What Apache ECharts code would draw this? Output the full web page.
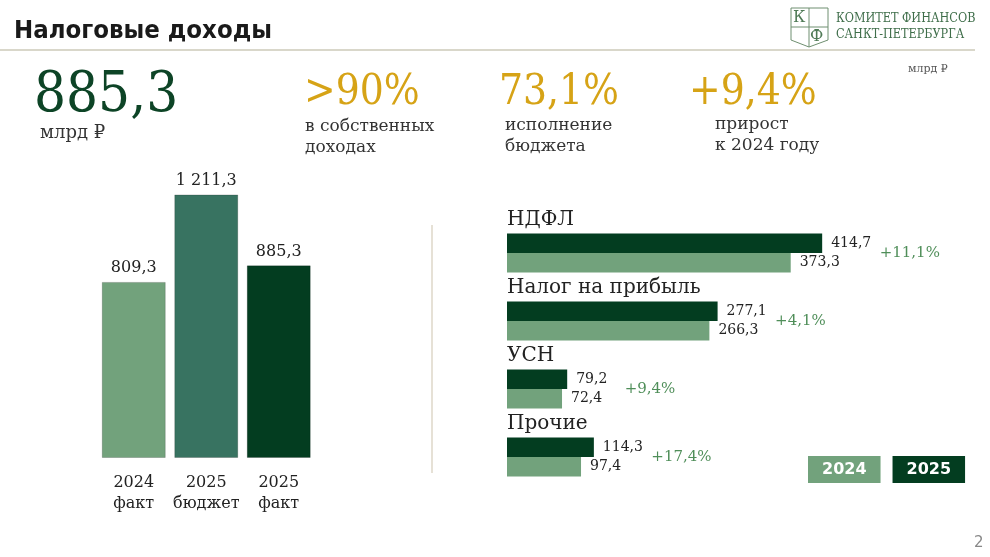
<!DOCTYPE html>
<html>
<head>
    <meta charset="utf-8">
    <script src="https://cdn.jsdelivr.net/npm/echarts@6/dist/echarts.min.js"></script>
    <style>
        html, body { margin: 0; padding: 0; background: #fff; }
        #main { width: 990px; height: 557px; }
    </style>
</head>
<body>
    <div id="main"></div>
    <script>
        // totals, bln rub
        var totalCats = ['2024\nфакт', '2025\nбюджет', '2025\nфакт'];
        var totalValues = [809.3, 1211.3, 885.3];
        var totalColors = ['#72a27c', '#387361', '#033d20'];

        // tax structure
        var taxCats = ['НДФЛ', 'Налог на прибыль', 'УСН', 'Прочие'];
        var tax2025 = [414.7, 277.1, 79.2, 114.3];
        var tax2024 = [373.3, 266.3, 72.4, 97.4];
        var taxGrowth = ['+11,1%', '+4,1%', '+9,4%', '+17,4%'];

        var SERIF = '"DejaVu Serif", "Noto Serif", serif';
        var SERIF_C = '"DejaVu Serif Condensed", "DejaVu Serif", serif';
        var SANS = '"DejaVu Sans", "Noto Sans", sans-serif';
        var LIGHT = '#72a27c';
        var DARK = '#033d20';
        var GOLD = '#d6a316';

        function fmt(v) {
            var s = v.toFixed(1).replace('.', ',');
            var parts = s.split(',');
            parts[0] = parts[0].replace(/\B(?=(\d{3})+(?!\d))/g, ' ');
            return parts.join(',');
        }

        function txt(x, y, text, size, color, extra) {
            var style = {
                text: text, x: 0, y: 0, fontSize: size, fill: color,
                fontFamily: SERIF, verticalAlign: 'middle'
            };
            if (extra) {
                for (var k in extra) style[k] = extra[k];
            }
            return { type: 'text', x: x, y: y, style: style };
        }

        var chart = echarts.init(document.getElementById('main'));

        var option = {
            backgroundColor: '#fff',
            animation: false,
            graphic: [
                txt(14, 31, 'Налоговые доходы', 25.5, '#1a1a1a', {
                    fontFamily: '"DejaVu Sans Condensed", "Liberation Sans Narrow", sans-serif',
                    fontWeight: 'bold'
                }),
                { type: 'line', shape: { x1: 0, y1: 50, x2: 975, y2: 50 },
                  style: { stroke: '#cdcab9', lineWidth: 1.5 } },
                // logo
                { type: 'polyline', shape: { points: [[791, 8], [828, 8], [828, 40], [809, 47], [791, 40], [791, 8]] },
                  style: { stroke: '#6f8f70', lineWidth: 1, fill: 'none' } },
                { type: 'line', shape: { x1: 809, y1: 8, x2: 809, y2: 47 }, style: { stroke: '#6f8f70', lineWidth: 1 } },
                { type: 'line', shape: { x1: 791, y1: 27, x2: 828, y2: 27 }, style: { stroke: '#6f8f70', lineWidth: 1 } },
                txt(793, 18, 'К', 16, '#4f7a56'),
                txt(810, 37, 'Ф', 16, '#4f7a56'),
                txt(836, 19, 'КОМИТЕТ ФИНАНСОВ', 12.5, '#3f6e4a', { fontFamily: SERIF_C }),
                txt(836, 35, 'САНКТ-ПЕТЕРБУРГА', 12.5, '#3f6e4a', { fontFamily: SERIF_C }),
                txt(908, 69, 'млрд ₽', 11, '#555'),
                // kpi
                txt(34, 96, '885,3', 56, '#0d4426', { fontFamily: SERIF_C }),
                txt(40, 133, 'млрд ₽', 18, '#333'),
                txt(304, 93, '>90%', 42, GOLD, { fontFamily: SERIF_C }),
                txt(305, 137, 'в собственных\nдоходах', 17, '#333', { lineHeight: 21 }),
                txt(499, 93, '73,1%', 42, GOLD, { fontFamily: SERIF_C }),
                txt(505, 136, 'исполнение\nбюджета', 17, '#333', { lineHeight: 21 }),
                txt(689, 93, '+9,4%', 42, GOLD, { fontFamily: SERIF_C }),
                txt(715, 135, 'прирост\nк 2024 году', 17, '#333', { lineHeight: 21 }),
                // separator
                { type: 'line', shape: { x1: 432, y1: 225, x2: 432, y2: 473 },
                  style: { stroke: '#e6e1d6', lineWidth: 2 } },
                txt(974, 543, '2', 15, '#888', { fontFamily: SANS })
            ],
            legend: {
                left: 798,
                top: 451,
                itemWidth: 0,
                itemHeight: 0,
                itemGap: 7,
                itemStyle: { opacity: 0 },
                selectedMode: false,
                data: [
                    { name: '2024', textStyle: { backgroundColor: LIGHT, color: '#fff', padding: [6, 14, 5, 14],
                      fontWeight: 'bold', fontSize: 16, fontFamily: SANS } },
                    { name: '2025', textStyle: { backgroundColor: DARK, color: '#fff', padding: [6, 14, 5, 14],
                      fontWeight: 'bold', fontSize: 16, fontFamily: SANS } }
                ]
            },
            grid: [
                { left: 97.5, width: 217.5, top: 186, height: 272 },
                { left: 507, width: 456, top: 219, height: 272 }
            ],
            xAxis: [
                {
                    gridIndex: 0,
                    type: 'category',
                    data: totalCats,
                    axisLine: { show: false },
                    axisTick: { show: false },
                    axisLabel: { interval: 0, fontFamily: SERIF, fontSize: 16, color: '#222', lineHeight: 21, margin: 14 }
                },
                {
                    gridIndex: 1,
                    type: 'value',
                    min: 0,
                    max: 600,
                    show: false
                }
            ],
            yAxis: [
                {
                    gridIndex: 0,
                    type: 'value',
                    min: 0,
                    max: 1250,
                    show: false
                },
                {
                    gridIndex: 1,
                    type: 'category',
                    inverse: true,
                    data: taxCats,
                    axisLine: { show: false },
                    axisTick: { show: false },
                    axisLabel: {
                        interval: 0,
                        inside: true,
                        margin: 0,
                        align: 'left',
                        verticalAlign: 'bottom',
                        padding: [0, 0, 22, 0],
                        lineHeight: 22,
                        fontFamily: SERIF,
                        fontSize: 20,
                        color: '#222'
                    }
                }
            ],
            series: [
                {
                    type: 'bar',
                    xAxisIndex: 0,
                    yAxisIndex: 0,
                    barWidth: 64,
                    data: totalValues.map(function (v, i) {
                        return { value: v, itemStyle: { color: totalColors[i] } };
                    }),
                    itemStyle: { borderColor: 'rgba(0,0,0,0.18)', borderWidth: 1 },
                    label: {
                        show: true,
                        position: 'top',
                        distance: 6,
                        fontFamily: SERIF,
                        fontSize: 16,
                        color: '#222',
                        formatter: function (p) { return fmt(p.value); }
                    }
                },
                {
                    name: '2025',
                    type: 'bar',
                    xAxisIndex: 1,
                    yAxisIndex: 1,
                    barWidth: 19.5,
                    barGap: '0%',
                    color: DARK,
                    data: tax2025,
                    label: {
                        show: true,
                        position: 'right',
                        distance: 9,
                        fontFamily: SERIF,
                        fontSize: 14,
                        color: '#222',
                        formatter: function (p) { return fmt(p.value); }
                    }
                },
                {
                    name: '2024',
                    type: 'bar',
                    xAxisIndex: 1,
                    yAxisIndex: 1,
                    barWidth: 19.5,
                    barGap: '0%',
                    color: LIGHT,
                    data: tax2024,
                    label: {
                        show: true,
                        position: 'right',
                        distance: 9,
                        fontFamily: SERIF,
                        fontSize: 14,
                        color: '#222',
                        formatter: function (p) { return fmt(p.value); }
                    }
                },
                {
                    // growth labels, placed after the 2025 bar end
                    type: 'scatter',
                    xAxisIndex: 1,
                    yAxisIndex: 1,
                    symbolSize: 1,
                    itemStyle: { color: 'rgba(0,0,0,0)' },
                    silent: true,
                    data: tax2025.map(function (v, i) { return [v, i]; }),
                    label: {
                        show: true,
                        position: 'right',
                        distance: 57,
                        fontFamily: SERIF,
                        fontSize: 15,
                        color: '#237230',
                        formatter: function (p) { return taxGrowth[p.dataIndex]; }
                    }
                }
            ]
        };

        chart.setOption(option);
    </script>
</body>
</html>
